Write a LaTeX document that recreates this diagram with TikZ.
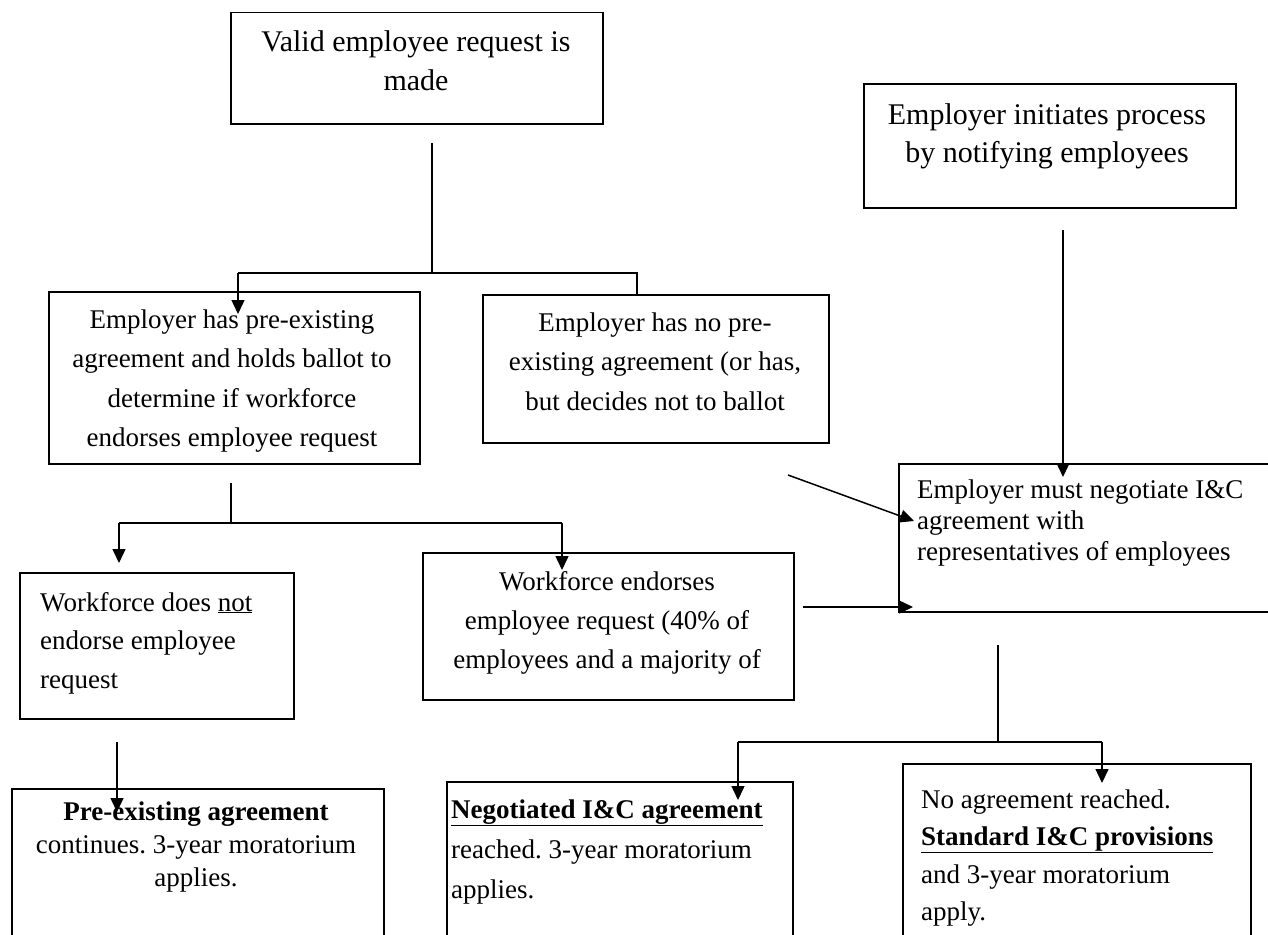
\documentclass[tikz,border=0pt]{standalone}
\usepackage{fontspec}
\setmainfont{Liberation Serif}
\usetikzlibrary{arrows.meta}
\frenchspacing
\begin{document}
\begin{tikzpicture}[x=1pt,y=-1pt,
  box/.style={draw, line width=1.5pt, inner sep=0pt, anchor=north west},
  conn/.style={line width=1.5pt},
  arr/.style={line width=1.5pt, -{Triangle[length=14pt,width=13pt]}},
  txt/.style={inner sep=0pt, anchor=base},
  ltxt/.style={inner sep=0pt, anchor=base west},
]
\useasboundingbox (0,0) rectangle (1268,934);
\fill[white] (0,0) rectangle (1268,934);

% boxes
\node[box, minimum width=372pt, minimum height=111pt] (A) at (230,12) {};
\node[box, minimum width=372pt, minimum height=124pt] (F) at (863,83) {};
\node[box, minimum width=371pt, minimum height=172pt] (C) at (48,291) {};
\node[box, minimum width=346pt, minimum height=148pt] (D) at (482,294) {};
\node[box, minimum width=274pt, minimum height=146pt] (E) at (19,572) {};
\node[box, minimum width=371pt, minimum height=147pt] (H) at (422,552) {};
\node[box, minimum width=400pt, minimum height=148pt] (G) at (898,463) {};
\node[box, minimum width=372pt, minimum height=160pt] (I) at (11,788) {};
\node[box, minimum width=346pt, minimum height=170pt] (J) at (446,781) {};
\node[box, minimum width=348pt, minimum height=190pt] (K) at (902,763) {};

% texts
\node[txt] (tA) at (416,52) {\parbox[t]{500pt}{\centering\fontsize{30}{39}\selectfont Valid employee request is\\ made}};
\node[txt] (tF) at (1047,124) {\parbox[t]{500pt}{\centering\fontsize{30}{38}\selectfont Employer initiates process\\ by notifying employees}};
\node[txt] (tC) at (232,328) {\parbox[t]{500pt}{\centering\fontsize{27}{39.5}\selectfont Employer has pre-existing\\ agreement and holds ballot to\\ determine if workforce\\ endorses employee request}};
\node[txt] (tD) at (655,331) {\parbox[t]{500pt}{\centering\fontsize{27}{39.5}\selectfont Employer has no pre-\\ existing agreement (or has,\\ but decides not to ballot}};
\node[ltxt] (tE) at (40,611) {\parbox[t]{300pt}{\raggedright\fontsize{27}{38.5}\selectfont Workforce does \underline{not}\\ endorse employee\\ request}};
\node[txt] (tH) at (607,590) {\parbox[t]{500pt}{\centering\fontsize{27}{39}\selectfont Workforce endorses\\ employee request (40\% of\\ employees and a majority of}};
\node[ltxt] (tG) at (917,498) {\parbox[t]{400pt}{\raggedright\fontsize{27}{31}\selectfont Employer must negotiate I\&C\\ agreement with\\ representatives of employees}};
\node[txt] (tI) at (196,820) {\parbox[t]{500pt}{\centering\fontsize{27}{33}\selectfont \textbf{Pre-existing agreement}\\ continues. 3-year moratorium\\ applies.}};
\node[ltxt] (tJ) at (451,818) {\parbox[t]{400pt}{\raggedright\fontsize{27}{40}\selectfont \textbf{\underline{Negotiated I\&C agreement}}\\ reached. 3-year moratorium\\ applies.}};
\node[ltxt] (tK) at (921,808) {\parbox[t]{400pt}{\raggedright\fontsize{27}{37.5}\selectfont No agreement reached.\\ \textbf{\underline{Standard I\&C provisions}}\\ and 3-year moratorium\\ apply.}};

% junction coordinates
\coordinate (a1) at (432,143);
\coordinate (a2) at (432,273);
\coordinate (a3) at (238,273);
\coordinate (a4) at (637,273);
\coordinate (a5) at (238,314);
\coordinate (c1) at (231,483);
\coordinate (c2) at (231,523);
\coordinate (c3) at (119,523);
\coordinate (c4) at (562,523);
\coordinate (c5) at (119,563);
\coordinate (c6) at (562,570);
\coordinate (e1) at (117,742);
\coordinate (e2) at (117,812);
\coordinate (d1) at (788,475);
\coordinate (d2) at (914,521);
\coordinate (h1) at (803,607);
\coordinate (h2) at (913,607);
\coordinate (f1) at (1063,230);
\coordinate (f2) at (1063,477);
\coordinate (g1) at (998,645);
\coordinate (g2) at (998,742);
\coordinate (g3) at (738,742);
\coordinate (g4) at (1102,742);
\coordinate (g5) at (738,800);
\coordinate (g6) at (1102,783);

% connectors
\draw[conn] (a1) -- (a2);
\draw[conn] (a3) -- (a4) -- (a4 |- D.north);
\draw[arr] (a3) -- (a5);
\draw[conn] (c1) -- (c2);
\draw[conn] (c3) -- (c4);
\draw[arr] (c3) -- (c5);
\draw[arr] (c4) -- (c6);
\draw[arr] (e1) -- (e2);
\draw[arr] (d1) -- (d2);
\draw[arr] (h1) -- (h2);
\draw[arr] (f1) -- (f2);
\draw[conn] (g1) -- (g2);
\draw[conn] (g3) -- (g4);
\draw[arr] (g3) -- (g5);
\draw[arr] (g4) -- (g6);
\end{tikzpicture}
\end{document}
